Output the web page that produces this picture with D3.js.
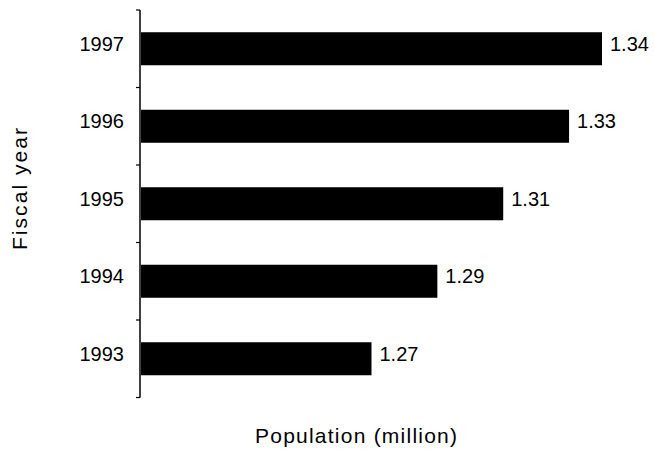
<!DOCTYPE html>
<html>
<head>
<meta charset="utf-8">
<script src="https://cdn.jsdelivr.net/npm/d3@7"></script>
<style>
  body { margin: 0; background: #fff; }
  text { font-family: "Liberation Sans", Arial, sans-serif; fill: #000; }
</style>
</head>
<body>
<div id="chart"></div>
<script>
const years = ['1997', '1996', '1995', '1994', '1993'];
const population = [1.34, 1.33, 1.31, 1.29, 1.27];

const width = 654,
height = 451;

const svg = d3.select('#chart').
append('svg').
attr('width', width).
attr('height', height);

// bars start at 1.2, not at zero
const x = d3.scaleLinear().
domain([1.2, 1.34]).
range([141, 602]);

const y = d3.scaleBand().
domain(years).
range([10, 397.5]).
paddingInner(0.574).
paddingOuter(0.287);

const step = y.step();
const gap = (step - y.bandwidth()) / 2;

// y axis line + ticks at band edges
const edges = years.map(d => y(d) - gap).concat([y(years[years.length - 1]) + y.bandwidth() + gap]);

svg.append('line').
attr('x1', 140).attr('x2', 140).
attr('y1', edges[0]).attr('y2', edges[edges.length - 1]).
attr('stroke', '#000').
attr('stroke-width', 1.5);

svg.selectAll('.tick').
data(edges).
enter().
append('line').
attr('class', 'tick').
attr('x1', 136).attr('x2', 140).
attr('y1', d => d).attr('y2', d => d).
attr('stroke', '#000').
attr('stroke-width', 1.2);

svg.selectAll('.bar').
data(years).
enter().
append('rect').
attr('class', 'bar').
attr('x', x(1.2)).
attr('y', d => y(d)).
attr('width', (d, i) => x(population[i]) - x(1.2)).
attr('height', y.bandwidth()).
attr('fill', '#000');

// year labels
svg.selectAll('.year').
data(years).
enter().
append('text').
attr('class', 'year').
attr('x', 124).
attr('y', d => y(d) + y.bandwidth() / 2 - 5).
attr('dy', '0.35em').
attr('text-anchor', 'end').
style('font-size', '20px').
text(d => d);

// value labels
svg.selectAll('.val').
data(years).
enter().
append('text').
attr('class', 'val').
attr('x', (d, i) => x(population[i]) + 8).
attr('y', d => y(d) + y.bandwidth() / 2 - 5).
attr('dy', '0.35em').
style('font-size', '20px').
text((d, i) => d3.format('.2f')(population[i]));

svg.append('text').
attr('x', 255).
attr('y', 443).
attr('textLength', 202).
attr('lengthAdjust', 'spacing').
style('font-size', '21px').
text('Population (million)');

svg.append('text').
attr('transform', 'translate(27,250) rotate(-90)').
attr('textLength', 122).
attr('lengthAdjust', 'spacing').
style('font-size', '21px').
text('Fiscal year');
</script>
</body>
</html>
